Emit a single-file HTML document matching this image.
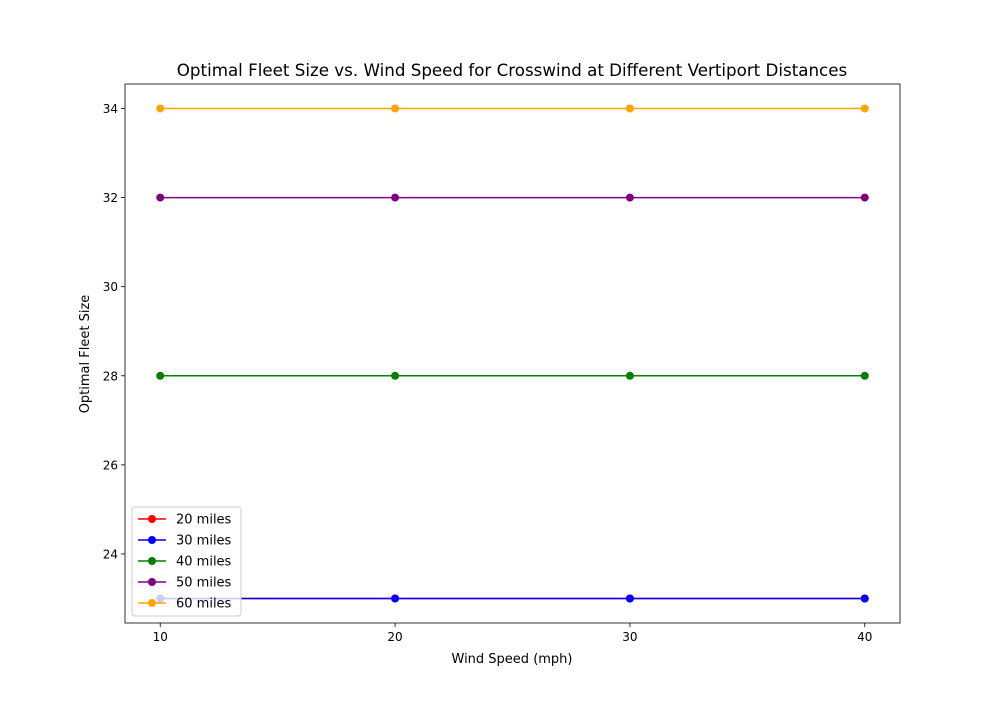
<!DOCTYPE html>
<html><head><meta charset="utf-8"><style>
body{margin:0;background:#fff;font-family:"Liberation Sans","DejaVu Sans",sans-serif;}
svg text{font-family:"DejaVu Sans","Liberation Sans",sans-serif;}
</style></head><body>
<svg id="chart" width="1000" height="700" xmlns="http://www.w3.org/2000/svg"></svg>
<script>
const categories = [10, 20, 30, 40];
const seriesNames = ["20 miles", "30 miles", "40 miles", "50 miles", "60 miles"];
const seriesColors = ["red", "blue", "green", "purple", "orange"];
const s20 = [23, 23, 23, 23];
const s30 = [23, 23, 23, 23];
const s40 = [28, 28, 28, 28];
const s50 = [32, 32, 32, 32];
const s60 = [34, 34, 34, 34];
const yTicks = [24, 26, 28, 30, 32, 34];
const xTicks = [10, 20, 30, 40];

const series = [s20, s30, s40, s50, s60];
const L = 125, R = 900, T = 84, B = 623;
const xMin = 8.5, xMax = 41.5, yMin = 22.45, yMax = 34.55;
const xs = v => L + (v - xMin) / (xMax - xMin) * (R - L);
const ys = v => B - (v - yMin) / (yMax - yMin) * (B - T);
const svg = document.getElementById('chart');
const NS = "http://www.w3.org/2000/svg";
function mk(tag, attrs, parent) {
  const e = document.createElementNS(NS, tag);
  for (const k in attrs) e.setAttribute(k, attrs[k]);
  (parent || svg).appendChild(e);
  return e;
}
const title = mk('text', {x: 512, y: 76, 'text-anchor': 'middle', 'font-size': 16.7, fill: '#000'});
title.textContent = "Optimal Fleet Size vs. Wind Speed for Crosswind at Different Vertiport Distances";



xTicks.forEach(t => {
  const g = mk('g', {});
  
  
  mk('line', {x1: xs(t), x2: xs(t), y1: B, y2: B + 4, stroke: '#000', 'stroke-width': 0.8}, g);
  const tx = mk('text', {x: xs(t), y: B + 18, 'text-anchor': 'middle', 'font-size': 12}, g);
  tx.textContent = t;
});
yTicks.forEach(t => {
  const g = mk('g', {});
  
  
  mk('line', {x1: L - 4, x2: L, y1: ys(t), y2: ys(t), stroke: '#000', 'stroke-width': 0.8}, g);
  const tx = mk('text', {x: L - 7, y: ys(t) + 4.5, 'text-anchor': 'end', 'font-size': 12}, g);
  tx.textContent = t;
});
const xl = mk('text', {x: 512, y: 663, 'text-anchor': 'middle', 'font-size': 13});
xl.textContent = "Wind Speed (mph)";


const yl = mk('text', {x: 89, y: 354, 'text-anchor': 'middle', 'font-size': 13, transform: 'rotate(-90 89 354)'});
yl.textContent = "Optimal Fleet Size";



series.forEach((vals, i) => {
  const g = mk('g', {});
  
  
  const pts = vals.map((v, j) => xs(categories[j]) + ',' + ys(v)).join(' ');
  mk('polyline', {points: pts, fill: 'none', stroke: seriesColors[i], 'stroke-width': 1.5}, g);
  vals.forEach((v, j) => {
    const c = mk('circle', {cx: xs(categories[j]), cy: ys(v), r: 4, fill: seriesColors[i]}, g);
    
    
  });
});
const frame = mk('rect', {x: L, y: T, width: R - L, height: B - T, fill: 'none', stroke: '#000', 'stroke-width': 0.8});



const lg = mk('g', {});


mk('rect', {x: 132, y: 507, width: 109, height: 109, rx: 3, fill: '#fff', 'fill-opacity': 0.8, stroke: '#ccc'}, lg);
seriesNames.forEach((n, i) => {
  const y = 519 + i * 21;
  const e = mk('g', {}, lg);
  
  
  mk('line', {x1: 138, x2: 166, y1: y, y2: y, stroke: seriesColors[i], 'stroke-width': 1.5}, e);
  mk('circle', {cx: 152, cy: y, r: 4, fill: seriesColors[i]}, e);
  const t = mk('text', {x: 176, y: y + 4.5, 'font-size': 13}, e);
  t.textContent = n;
});
</script>
</body></html>
